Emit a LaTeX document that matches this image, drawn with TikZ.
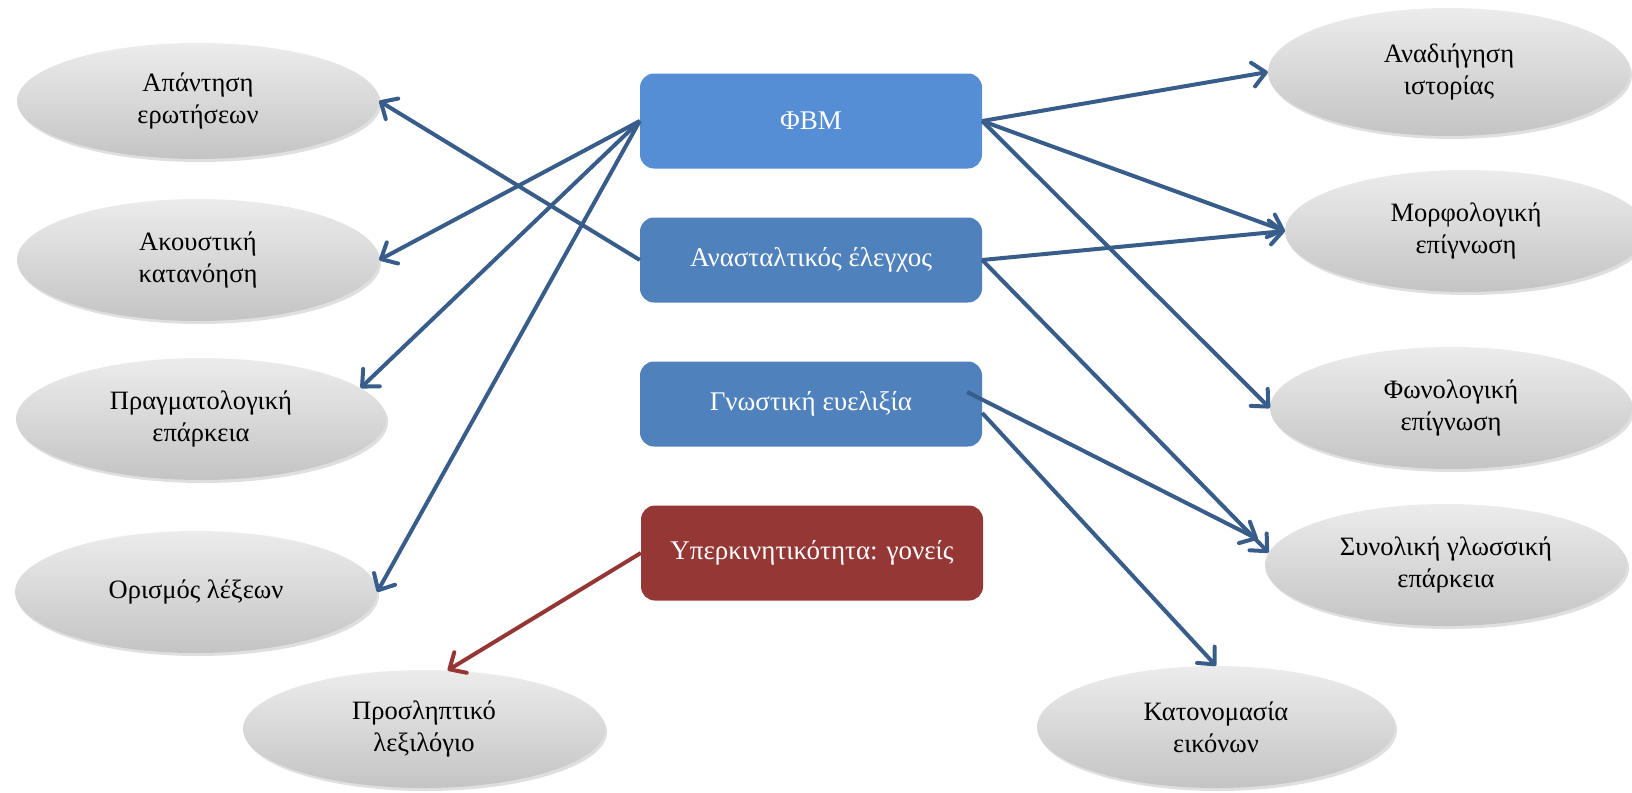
\documentclass[tikz,border=0pt]{standalone}
\usepackage{fontspec}
\setmainfont{Liberation Serif}
\usetikzlibrary{shapes.geometric,shadows,arrows.meta}
\definecolor{fbmblue}{HTML}{558ED5}
\definecolor{boxblue}{HTML}{4F81BD}
\definecolor{boxred}{HTML}{953735}
\definecolor{linkblue}{HTML}{385D8A}
\definecolor{linkred}{HTML}{963634}
\definecolor{ovaltop}{RGB}{236,236,236}
\definecolor{ovalbottom}{RGB}{196,196,196}

\begin{document}
\begin{tikzpicture}[x=1pt,y=-1pt,
    box/.style={rectangle,rounded corners=14pt,text=white,minimum width=342pt,
        font=\fontsize{27}{32}\selectfont},
    oval/.style={ellipse,minimum width=362pt,minimum height=122pt,inner sep=0pt,
        align=center,top color=ovaltop,bottom color=ovalbottom,
        drop shadow={shadow xshift=2pt,shadow yshift=-3pt,opacity=0.25},
        font=\fontsize{26.5}{32}\selectfont},
    link/.style={draw=linkblue,line width=4pt,
        -{Straight Barb[length=13pt,width=24pt,round]}}]
    \useasboundingbox (0,0) rectangle (1632,792);

    % Central boxes
    \node[box,fill=fbmblue,minimum height=95pt] (fbm) at (811,121) {ΦΒΜ};
    \node[box,fill=boxblue,minimum height=85pt] (anast) at (811,260) {Ανασταλτικός έλεγχος};
    \node[box,fill=boxblue,minimum height=85pt] (gnos) at (811,404) {Γνωστική ευελιξία};
    \node[box,fill=boxred,minimum height=95pt] (hyp) at (812,553) {Υπερκινητικότητα: γονείς};

    % Left ovals
    \node[oval,minimum height=116pt] (ans) at (198,101) {Απάντηση\\ερωτήσεων};
    \node[oval] (acou) at (198,260) {Ακουστική\\κατανόηση};
    \node[oval,minimum width=370pt] (prag) at (201,419) {Πραγματολογική\\επάρκεια};
    \node[oval] (def) at (196,592) {Ορισμός λέξεων};
    \node[oval,minimum height=118pt] (rec) at (424,729) {Προσληπτικό\\λεξιλόγιο};

    % Right ovals
    \node[oval,minimum height=128pt] (retell) at (1449,72) {Αναδιήγηση\\ιστορίας};
    \node[oval] (morph) at (1466,231) {Μορφολογική\\επίγνωση};
    \node[oval] (phon) at (1451,408) {Φωνολογική\\επίγνωση};
    \node[oval] (total) at (1446,565) {Συνολική γλωσσική\\επάρκεια};
    \node[oval,minimum width=358pt] (naming) at (1216,727) {Κατονομασία\\εικόνων};

    % Links
    \draw[link] (fbm.west) -- (acou.east);
    \draw[link] (fbm.west) -- (prag.11);
    \draw[link] (fbm.west) -- (def.east);
    \draw[link] (anast.west) -- (ans.east);
    \draw[link] (fbm.east) -- (retell.west);
    \draw[link] (fbm.east) -- (morph.west);
    \draw[link] (fbm.east) -- (phon.west);
    \draw[link] (anast.east) -- (morph.west);
    \draw[link] (anast.east) -- (total.176);
    \draw[link,shorten >=17pt] ([xshift=-15pt,yshift=12pt]gnos.east) -- (total.174);
    \draw[link] ([yshift=-9pt]gnos.east) -- (naming.north);
    \draw[link,draw=linkred] (hyp.west) -- (rec.68);
\end{tikzpicture}
\end{document}
